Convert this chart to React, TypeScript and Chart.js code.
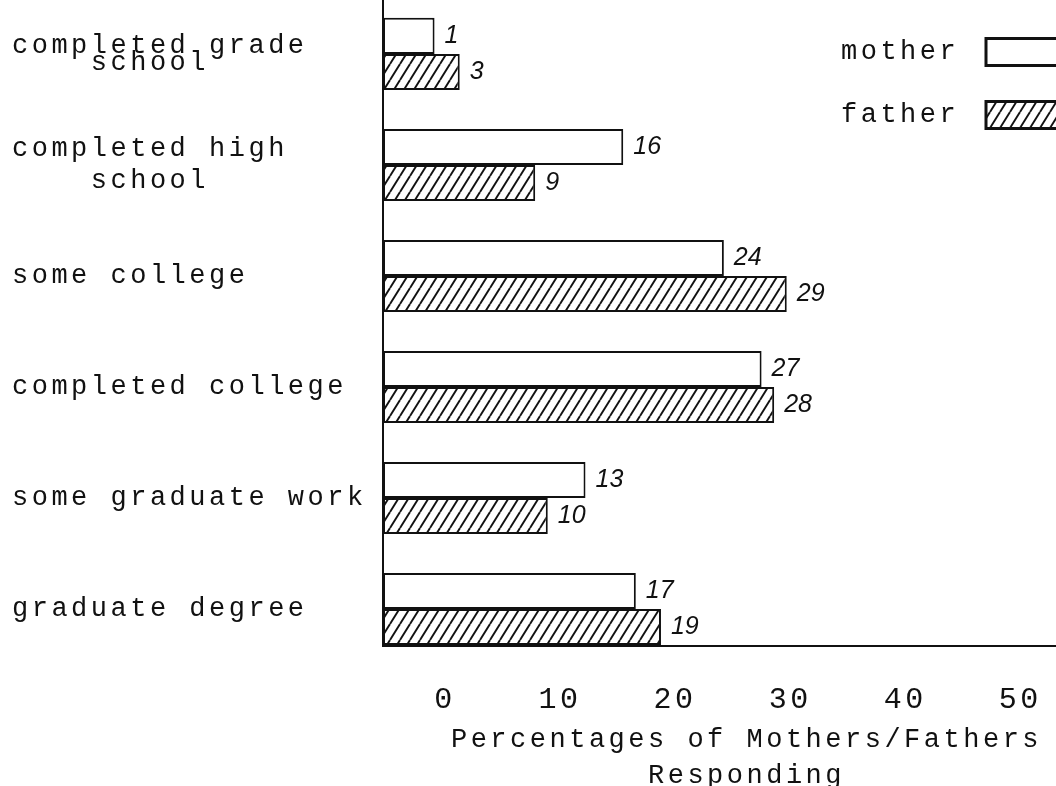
import React, { useEffect, useRef } from 'react';
import { Chart, registerables } from 'chart.js';

Chart.register(...registerables);

// ---- data ----
const CATEGORIES: string[][] = [
  ['completed grade', '    school'],
  ['completed high', '    school'],
  ['some college'],
  ['completed college'],
  ['some graduate work'],
  ['graduate degree'],
];
const SERIES_LABELS = ['mother', 'father'];
const MOTHER = [1, 16, 24, 27, 13, 17];
const FATHER = [3, 9, 29, 28, 10, 19];
const X_TICKS = [0, 10, 20, 30, 40, 50];
const X_TITLE = ['Percentages of Mothers/Fathers', 'Responding'];

// ---- scale ranges (layout) ----
const X_MIN = -3.1;
const X_MAX = 54.7;
const XT_MIN = -5.39;
const XT_MAX = 57.8;
const Y_MIN = -0.486;
const Y_MAX = 5.333;

const TYPE_FONT = 'Liberation Mono';
const INK = '#111';
const SPACING = '3.5px';

function makeHatch(): CanvasPattern | string {
  const w = 10;
  const h = 16;
  const c = document.createElement('canvas');
  c.width = w;
  c.height = h;
  const g = c.getContext('2d');
  if (!g) return '#888';
  g.fillStyle = '#fff';
  g.fillRect(0, 0, w, h);
  g.strokeStyle = INK;
  g.lineWidth = 1.9;
  for (const dx of [-w, 0, w]) {
    g.beginPath();
    g.moveTo(dx, h);
    g.lineTo(dx + w, 0);
    g.stroke();
  }
  return g.createPattern(c, 'repeat') || '#888';
}

const spacingPlugin = {
  id: 'typeSpacing',
  beforeLayout(chart: any) {
    (chart.ctx as any).letterSpacing = SPACING;
  },
  beforeDraw(chart: any) {
    (chart.ctx as any).letterSpacing = SPACING;
  },
};

const valueLabels = {
  id: 'valueLabels',
  afterDatasetsDraw(chart: any) {
    const ctx = chart.ctx;
    ctx.save();
    (ctx as any).letterSpacing = '0px';
    ctx.font = 'italic 25px "Liberation Sans"';
    ctx.fillStyle = INK;
    ctx.textBaseline = 'middle';
    ctx.textAlign = 'left';
    chart.data.datasets.forEach((ds: any, di: number) => {
      const meta = chart.getDatasetMeta(di);
      meta.data.forEach((el: any, i: number) => {
        const v = ds.data[i].x;
        ctx.fillText(String(v), el.x + 10, el.y);
      });
    });
    ctx.restore();
  },
};

const boxLegend = {
  id: 'boxLegend',
  afterDraw(chart: any, _args: any, opts: any) {
    const ctx = chart.ctx;
    ctx.save();
    (ctx as any).letterSpacing = SPACING;
    ctx.font = `27px "${TYPE_FONT}"`;
    ctx.textBaseline = 'middle';
    ctx.textAlign = 'left';
    chart.data.datasets.forEach((ds: any, i: number) => {
      const y = opts.top + i * opts.rowGap;
      ctx.fillStyle = INK;
      ctx.fillText(ds.label, opts.textX, y);
      ctx.fillStyle = ds.backgroundColor;
      ctx.fillRect(opts.boxX, y - opts.boxH / 2, opts.boxW, opts.boxH);
      ctx.lineWidth = 3;
      ctx.strokeStyle = INK;
      ctx.strokeRect(opts.boxX, y - opts.boxH / 2, opts.boxW, opts.boxH);
    });
    ctx.restore();
  },
};

export default function App() {
  const ref = useRef<HTMLCanvasElement | null>(null);

  useEffect(() => {
    if (!ref.current) return;
    const hatch = makeHatch();
    const chart = new Chart(ref.current, {
      type: 'bar',
      data: {
        labels: CATEGORIES as any,
        datasets: [
          {
            label: SERIES_LABELS[0],
            data: MOTHER.map((v, i) => ({ x: v, y: i })) as any,
            backgroundColor: '#fff',
            borderColor: INK,
            borderWidth: 2,
            borderSkipped: false,
            base: X_MIN,
            categoryPercentage: 0.65,
            barPercentage: 1,
            xAxisID: 'x',
            yAxisID: 'y',
          } as any,
          {
            label: SERIES_LABELS[1],
            data: FATHER.map((v, i) => ({ x: v, y: i })) as any,
            backgroundColor: hatch as any,
            borderColor: INK,
            borderWidth: 2,
            borderSkipped: false,
            base: X_MIN,
            categoryPercentage: 0.65,
            barPercentage: 1,
            xAxisID: 'x',
            yAxisID: 'y',
          } as any,
        ],
      },
      options: {
        indexAxis: 'y',
        responsive: false,
        animation: false,
        devicePixelRatio: 1,
        layout: { padding: { left: 12, right: 0, top: 0, bottom: 0 } },
        plugins: {
          legend: { display: false },
          tooltip: { enabled: false },
          title: { display: false },
          boxLegend: { textX: 841, boxX: 986, boxW: 110, boxH: 27, top: 52, rowGap: 63 },
        } as any,
        scales: {
          x: {
            type: 'linear',
            display: false,
            min: X_MIN,
            max: X_MAX,
          },
          xt: {
            type: 'linear',
            position: 'bottom',
            min: XT_MIN,
            max: XT_MAX,
            grid: { display: false },
            border: { display: true, color: INK, width: 2 },
            afterBuildTicks: (s: any) => {
              s.ticks = X_TICKS.map((v) => ({ value: v }));
            },
            afterFit: (s: any) => {
              s.height = 154;
            },
            ticks: {
              padding: 28,
              color: INK,
              maxRotation: 0,
              autoSkip: false,
              font: { family: TYPE_FONT, size: 30 },
              callback: (v: any) => String(v),
            },
            title: {
              display: true,
              text: X_TITLE,
              color: INK,
              font: { family: TYPE_FONT, size: 27, lineHeight: '36px' },
              padding: { top: 0, bottom: 6 },
            },
          } as any,
          y: {
            type: 'linear',
            reverse: true,
            offset: false,
            bounds: 'data',
            min: Y_MIN,
            max: Y_MAX,
            grid: { display: false, offset: false },
            border: { display: true, color: INK, width: 2 },
            afterBuildTicks: (s: any) => {
              s.ticks = CATEGORIES.map((_, i) => ({ value: i }));
            },
            afterFit: (s: any) => {
              s.width = 371;
              s.paddingTop = 0;
              s.paddingBottom = 0;
            },
            ticks: {
              crossAlign: 'far',
              color: INK,
              autoSkip: false,
              font: (c: any) => ({
                family: TYPE_FONT,
                size: 27,
                lineHeight: c.index === 0 ? '17px' : '32px',
              }),
              callback: (_v: any, i: number) => CATEGORIES[i],
            },
          } as any,
        },
      },
      plugins: [spacingPlugin, valueLabels, boxLegend],
    });
    return () => chart.destroy();
  }, []);

  return (
    <div
      style={{
        position: 'absolute',
        left: 0,
        top: 0,
        width: 1056,
        height: 786,
        overflow: 'hidden',
        background: '#fff',
      }}
    >
      <canvas
        ref={ref}
        width={1110}
        height={800}
        style={{ display: 'block', width: 1110, height: 800 }}
      />
    </div>
  );
}
